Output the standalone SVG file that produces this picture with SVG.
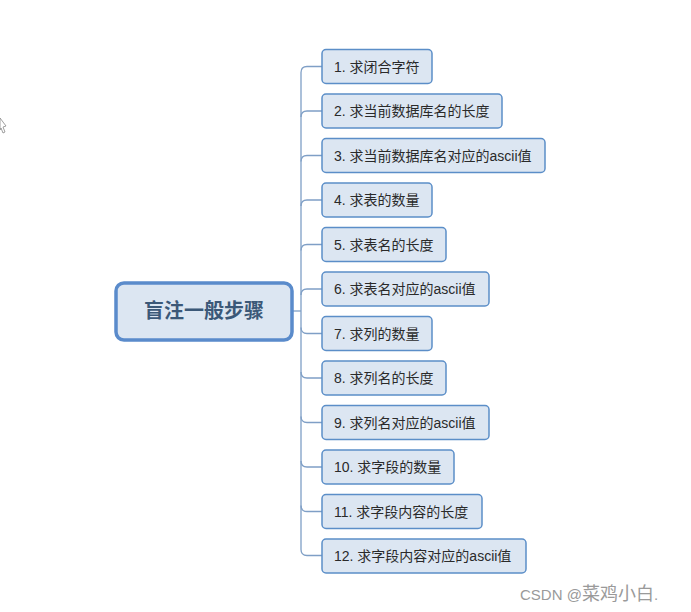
<svg xmlns="http://www.w3.org/2000/svg" width="691" height="612" viewBox="0 0 691 612">
<style>
.bg{fill:#ffffff}
.conn{fill:none;stroke:#7f9fc6;stroke-width:1.3}
.box{fill:#dce6f2;stroke:#5b8ec8;stroke-width:1.5}
.main{fill:#dce6f2;stroke:#5a8bcb;stroke-width:3.5}
.t{font-family:"Liberation Sans","Noto Sans CJK SC",sans-serif;font-size:14px;fill:#2a2a2a}
.mt{font-family:"Liberation Sans","Noto Sans CJK SC",sans-serif;font-size:20px;font-weight:bold;fill:#3b5878}
.wm{font-family:"Liberation Sans","Noto Sans CJK SC",sans-serif;font-size:15px;fill:#9a9a9a}
</style>
<rect class="bg" x="0" y="0" width="691" height="612"/>
<g id="cursor">
<path d="M0,118 L6,126 L3,127 L5,132 L3,133 L1,128 L0,130 Z" fill="#ffffff" stroke="#888888" stroke-width="0.8"/>
</g>
<g id="connectors">
<path class="conn" d="M293,311 H301"/>
<path class="conn" d="M322,66.5 H307 Q301,66.5 301,72.5 V549.5 Q301,555.5 307,555.5 H322"/>
<path class="conn" d="M322,111 H307 Q301,111 301,117"/>
<path class="conn" d="M322,155.5 H307 Q301,155.5 301,161.5"/>
<path class="conn" d="M322,200 H307 Q301,200 301,206"/>
<path class="conn" d="M322,244.5 H307 Q301,244.5 301,250.5"/>
<path class="conn" d="M322,289 H307 Q301,289 301,295"/>
<path class="conn" d="M322,333.5 H307 Q301,333.5 301,327.5"/>
<path class="conn" d="M322,378 H307 Q301,378 301,372"/>
<path class="conn" d="M322,422.5 H307 Q301,422.5 301,416.5"/>
<path class="conn" d="M322,467 H307 Q301,467 301,461"/>
<path class="conn" d="M322,511.5 H307 Q301,511.5 301,505.5"/>
</g>
<g id="main">
<rect class="main" x="116" y="283" width="176" height="57" rx="8"/>
<text class="mt" x="204" y="318" text-anchor="middle">盲注一般步骤</text>
</g>
<g id="n1"><rect class="box" x="322" y="49.5" width="110" height="34" rx="4"/><text class="t" x="334" y="71.5">1. 求闭合字符</text></g>
<g id="n2"><rect class="box" x="322" y="94" width="180" height="34" rx="4"/><text class="t" x="334" y="116">2. 求当前数据库名的长度</text></g>
<g id="n3"><rect class="box" x="322" y="138.5" width="223" height="34" rx="4"/><text class="t" x="334" y="160.5">3. 求当前数据库名对应的ascii值</text></g>
<g id="n4"><rect class="box" x="322" y="183" width="110" height="34" rx="4"/><text class="t" x="334" y="205">4. 求表的数量</text></g>
<g id="n5"><rect class="box" x="322" y="227.5" width="124" height="34" rx="4"/><text class="t" x="334" y="249.5">5. 求表名的长度</text></g>
<g id="n6"><rect class="box" x="322" y="272" width="167" height="34" rx="4"/><text class="t" x="334" y="294">6. 求表名对应的ascii值</text></g>
<g id="n7"><rect class="box" x="322" y="316.5" width="110" height="34" rx="4"/><text class="t" x="334" y="338.5">7. 求列的数量</text></g>
<g id="n8"><rect class="box" x="322" y="361" width="124" height="34" rx="4"/><text class="t" x="334" y="383">8. 求列名的长度</text></g>
<g id="n9"><rect class="box" x="322" y="405.5" width="167" height="34" rx="4"/><text class="t" x="334" y="427.5">9. 求列名对应的ascii值</text></g>
<g id="n10"><rect class="box" x="322" y="450" width="132" height="34" rx="4"/><text class="t" x="334" y="472">10. 求字段的数量</text></g>
<g id="n11"><rect class="box" x="322" y="494.5" width="160" height="34" rx="4"/><text class="t" x="334" y="516.5">11. 求字段内容的长度</text></g>
<g id="n12"><rect class="box" x="322" y="539" width="204" height="34" rx="4"/><text class="t" x="334" y="561">12. 求字段内容对应的ascii值</text></g>
<text class="wm" x="520" y="600">CSDN @<tspan font-size="18">菜鸡小白</tspan>.</text>
</svg>
